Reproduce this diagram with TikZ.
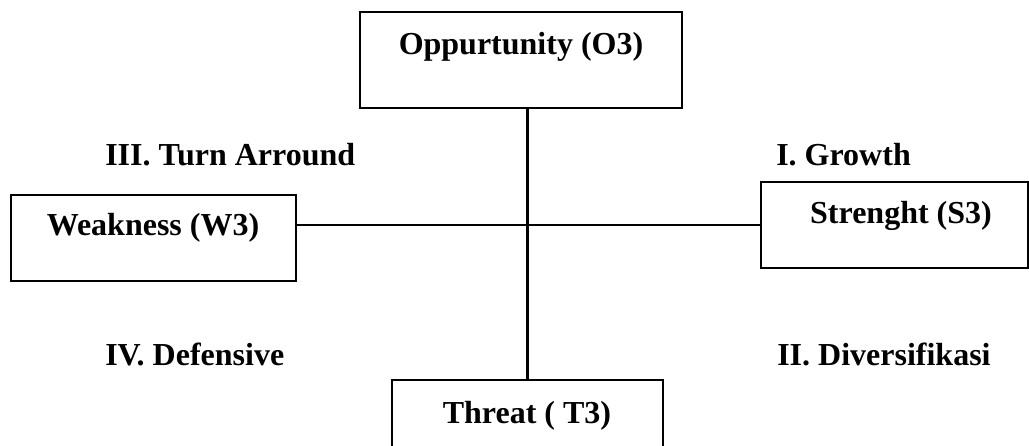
\documentclass[tikz,border=0pt]{standalone}
\usepackage{fontspec}
\setmainfont{Liberation Serif}
\begin{document}
\begin{tikzpicture}[x=0.75pt,y=-0.75pt,
  box/.style={draw, line width=1.4pt, rectangle, inner sep=0pt},
  txt/.style={font=\fontsize{24}{28}\selectfont\bfseries, inner sep=0pt, anchor=base},
  quad/.style={font=\fontsize{24}{28}\selectfont\bfseries, inner sep=0pt, anchor=base west},
  vconn/.style={line width=2pt},
  hconn/.style={line width=1.4pt}]
\clip (0,0) rectangle (1029,446);
\fill[white] (0,0) rectangle (1029,446);
% boxes
\node[box, minimum width=322*0.75pt, minimum height=96*0.75pt] (opp) at (521,60) {};
\node[box, minimum width=285*0.75pt, minimum height=86*0.75pt] (weak) at (153.5,238) {};
\node[box, minimum width=267*0.75pt, minimum height=86*0.75pt] (str) at (894.5,225) {};
\node[box, minimum width=271*0.75pt, minimum height=86*0.75pt] (thr) at (527.5,423) {};
% box texts
\node[txt] (oppT) at (521,55) {Oppurtunity (O3)};
\node[txt] (weakT) at (153,235) {Weakness (W3)};
\node[txt] (strT) at (901,223) {Strenght (S3)};
\node[txt] (thrT) at (527,423) {Threat ( T3)};
% quadrant labels
\node[quad] (q3) at (105,165) {III. Turn Arround};
\node[quad] (q1) at (776,165) {I. Growth};
\node[quad] (q4) at (105,365) {IV. Defensive};
\node[quad] (q2) at (777,365) {II. Diversifikasi};
% connectors
\draw[vconn] (opp.south -| thr.north) -- (thr.north);
\draw[hconn] (weak.east |- str.west) -- (str.west);
\end{tikzpicture}
\end{document}
